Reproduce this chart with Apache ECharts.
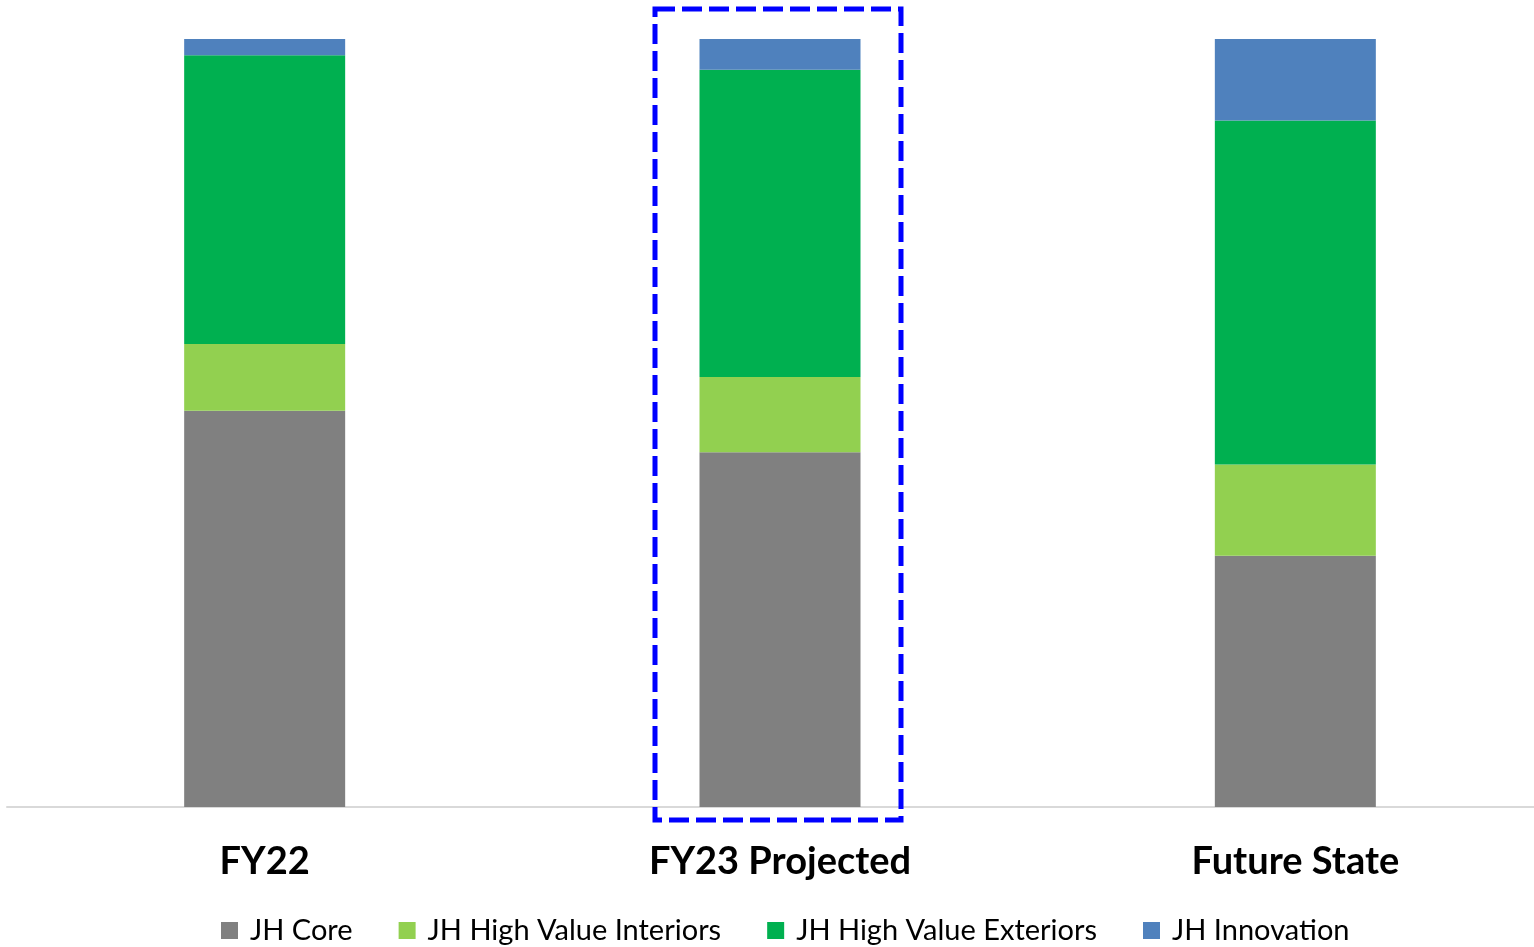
<!DOCTYPE html>
<html>
<head>
<meta charset="utf-8">
<script src="https://cdn.jsdelivr.net/npm/echarts@6/dist/echarts.min.js"></script>
<style>
  html, body { margin: 0; padding: 0; background: #fff; }
  #chart { width: 1534px; height: 947px; }
</style>
</head>
<body>
<div id="chart"></div>
<script>
// categories and shares (percent of total)
const categories = ['FY22', 'FY23 Projected', 'Future State'];
const jhCore = [51.6, 46.2, 32.7];
const jhInteriors = [8.7, 9.8, 11.9];
const jhExteriors = [37.6, 40.0, 44.8];
const jhInnovation = [2.1, 4.0, 10.6];
const highlighted = 'FY23 Projected';

const font = 'Lato, "Open Sans", sans-serif';
const chart = echarts.init(document.getElementById('chart'));

function bar(name, data, color) {
  return {
    name: name,
    type: 'bar',
    stack: 'total',
    barWidth: 161,
    data: data,
    itemStyle: { color: color },
    emphasis: { disabled: true }
  };
}

chart.setOption({
  animation: false,
  // plot runs a little past the right edge of the picture
  grid: { left: 7, width: 1546, top: 39, bottom: 140, outerBoundsMode: 'none', containLabel: false },
  legend: {
    bottom: 2,
    left: 221,
    padding: 0,
    itemWidth: 17,
    itemHeight: 17,
    itemGap: 46,
    icon: 'rect',
    textStyle: { fontFamily: font, fontSize: 29, color: '#000', padding: [0, 0, 0, 7] },
    data: ['JH Core', 'JH High Value Interiors', 'JH High Value Exteriors', 'JH Innovation']
  },
  xAxis: {
    type: 'category',
    data: categories,
    axisLine: { lineStyle: { color: '#d9d9d9', width: 2 } },
    axisTick: { show: false },
    axisLabel: {
      margin: 36,
      fontFamily: font,
      fontWeight: 'bold',
      fontSize: 38,
      color: '#000'
    }
  },
  yAxis: {
    type: 'value',
    min: 0,
    max: 100,
    show: false
  },
  series: [
    bar('JH Core', jhCore, '#808080'),
    bar('JH High Value Interiors', jhInteriors, '#92D050'),
    bar('JH High Value Exteriors', jhExteriors, '#00B050'),
    bar('JH Innovation', jhInnovation, '#4F81BD')
  ]
});

// dashed highlight box around the projected year
const cx = chart.convertToPixel({ xAxisIndex: 0 }, highlighted);
chart.setOption({
  graphic: [{
    type: 'rect',
    shape: { x: cx - 125, y: 9, width: 246, height: 811 },
    style: {
      fill: 'none',
      stroke: '#0000FF',
      lineWidth: 5,
      lineDash: [20, 7]
    },
    z: 100
  }]
});
</script>
</body>
</html>
